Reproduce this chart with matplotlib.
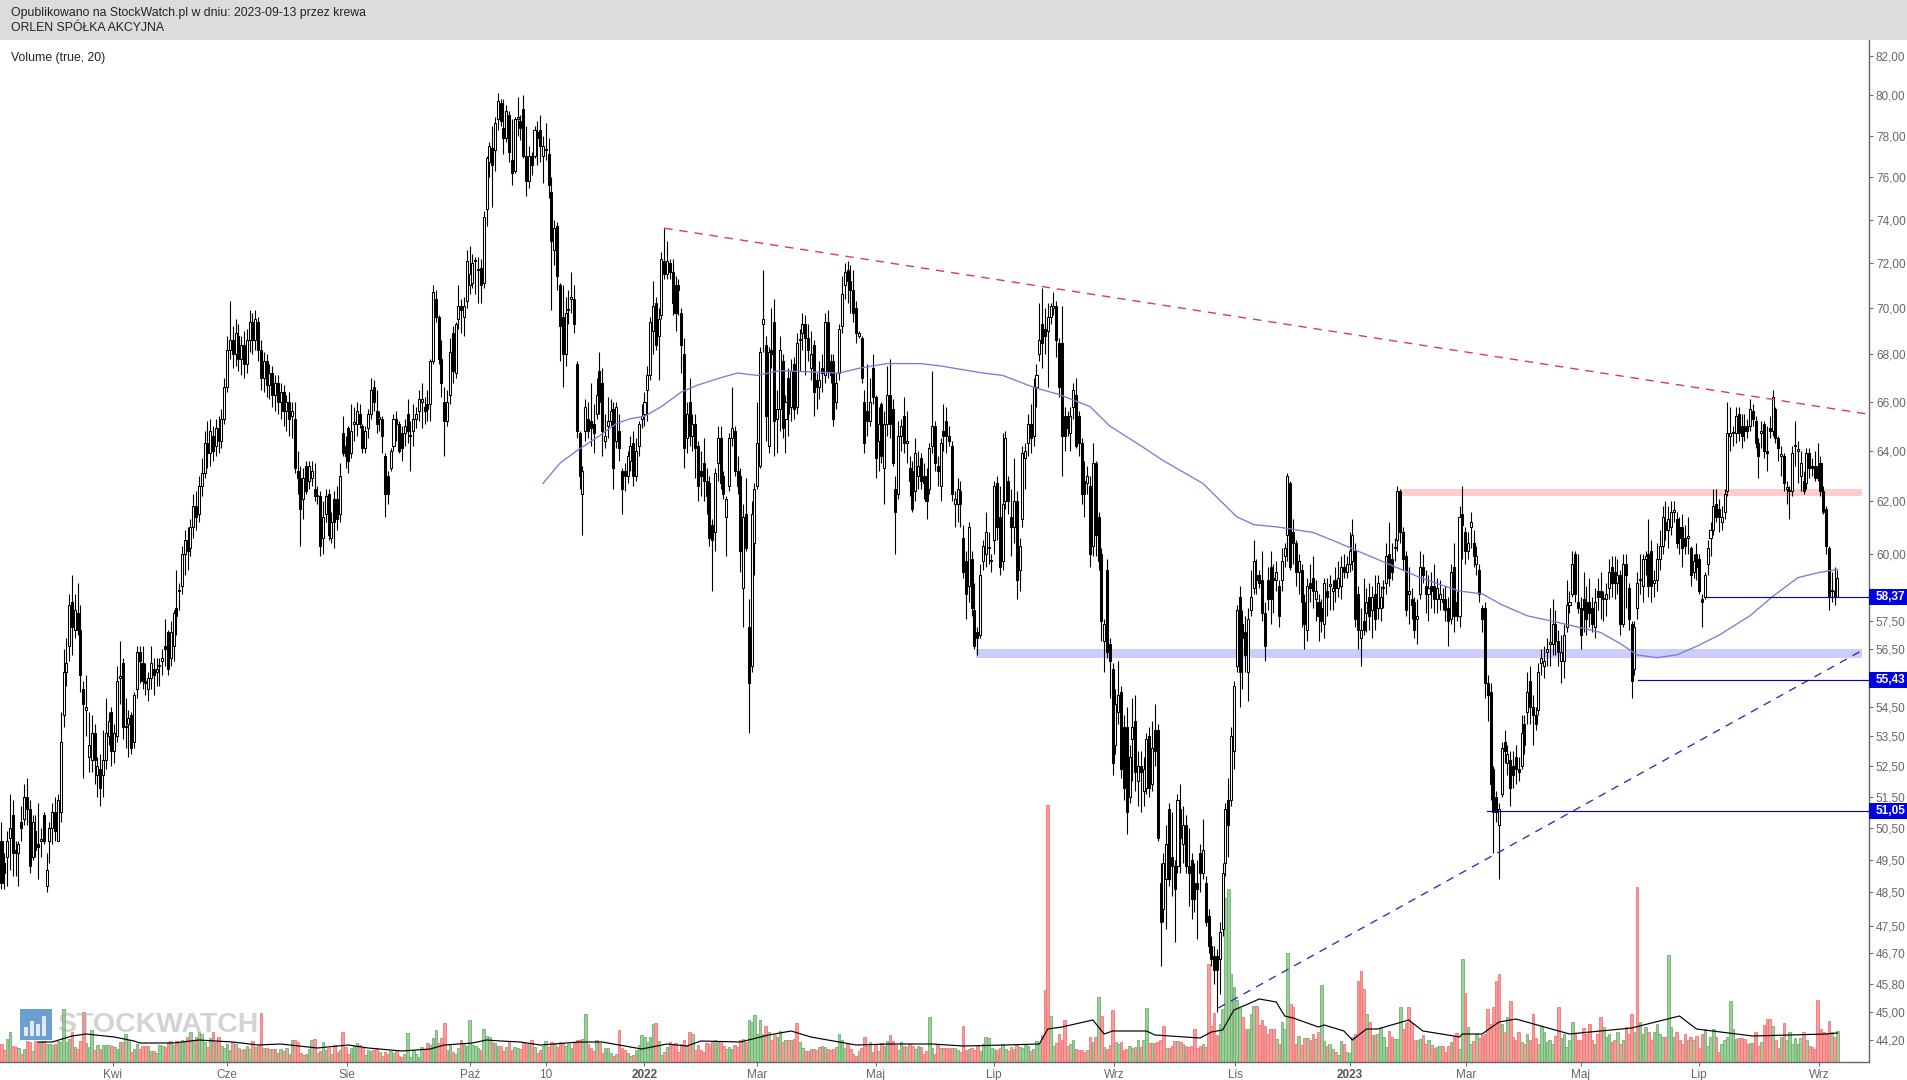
import numpy as np
import matplotlib
matplotlib.use("Agg")
import matplotlib.pyplot as plt
from matplotlib.patches import Rectangle

plt.rcParams['font.family'] = ['Liberation Sans', 'DejaVu Sans']

opens = [
50.1,49.4,49.6,50.2,50.9,49.8,49.7,50.7,50.8,51.5, 51.1,49.6,50.4,50.0,50.1,50.9,48.7,50.1,50.5,51.0,
50.1,51.0,54.2,55.7,56.6,58.2,57.2,57.8,57.2,55.1, 54.4,52.8,52.7,53.6,52.2,52.4,52.2,52.7,53.5,54.3,
53.0,53.5,55.5,56.0,53.8,53.9,54.2,53.3,55.1,56.4, 56.0,55.4,55.1,55.5,55.8,55.7,55.9,56.1,56.6,57.1,
56.2,56.6,58.0,58.6,58.8,60.0,60.5,60.2,61.0,61.8, 61.5,62.6,63.1,64.3,63.9,64.6,64.2,64.9,64.4,65.3,
66.6,68.2,68.6,68.0,68.8,67.8,68.4,67.6,68.6,69.4, 68.6,69.4,68.2,67.0,67.7,66.7,67.2,66.3,66.8,66.0,
66.4,65.6,66.0,65.4,
65.3,63.2,62.9,62.1,63.4,62.8,62.9,62.5,62.2,62.2, 60.6,61.5,62.3,60.6,62.1,62.1,61.5,64.7,64.2,64.9,
63.9,65.1,65.1,65.5,65.0,64.1,64.9,65.5,66.6,65.6, 65.3,65.3,63.8,63.0,63.3,64.2,65.3,65.1,64.7,64.7,
65.5,64.6,64.8,65.3,65.6,66.0,65.8,65.9,65.9,67.7, 70.4,69.6,67.8,66.0,65.2,66.3,68.9,67.2,69.5,70.1,
69.6,70.3,71.0,71.1,72.1,71.7,71.8,71.1,74.5,76.7, 77.4,77.3,78.8,79.6,78.4,77.9,79.0,76.8,76.3,78.8,
78.7,79.3,77.0,75.8,77.0,77.0,78.2,78.3,77.0,77.3, 77.1,75.3,72.6,73.7,71.0,69.6,68.0,69.9,70.4,70.4,
67.6,64.7,62.3,64.8,65.3,65.2,65.1,65.5,67.3,66.8, 64.4,65.0,65.2,65.7,64.4,64.8,63.2,63.2,63.0,
63.6,64.3,63.0,64.2,65.3,65.5,66.5,67.1,69.0,70.2, 68.8,69.7,72.1,71.5,72.0,71.6,71.0,71.0,69.8,68.0,
64.5,66.0,64.6,65.1,64.2,63.2,63.5,62.8,62.7,61.1, 60.8,63.5,64.5,63.0,61.4,62.6,64.5,64.8,63.2,63.0,
58.7,61.5,57.3,55.9,60.4,62.6,63.4,69.3,68.4,64.2, 68.2,69.4,65.3,65.7,67.7,65.3,67.0,65.8,67.6,65.8,
68.6,68.9,69.3,68.7,67.4,68.4,66.9,66.6,67.4,67.1, 69.4,67.7,67.7,66.0,67.2,69.2,71.0,71.7,71.2,70.8,
70.0,68.8,68.7,66.0,65.6,65.2,67.4,66.2,64.4,65.9, 63.3,65.1,66.3,65.7,62.5,62.3,64.6,65.4,64.3,63.3,
63.2,62.4,63.0,63.7,63.0,63.0,62.5,64.2,65.0,63.4, 62.6,64.8,65.2,64.6,64.2,
61.9,61.9,62.4,60.6,59.7,58.8,59.8,57.9,57.1,57.0, 59.7,60.0,60.2,59.7,60.5,62.7,61.4,59.7,62.0,62.8,
61.4,61.0,62.0,59.4,61.3,63.7,64.3,65.1,64.6,66.6, 68.0,69.3,69.1,69.0,69.6,70.0,70.1,68.5,68.5,65.4,
65.4,64.7,65.8,66.3,65.4,64.3,62.8,62.7,62.6,60.3, 63.5,61.4,60.0,56.8,59.4,56.7,55.8,53.2,54.3,55.0,
53.8,53.8,51.5,53.4,54.0,52.0,52.5,51.7,51.8,53.5, 51.9,53.7,53.7,48.8,48.0,48.9,51.1,49.6,49.3,49.3,
51.1,50.0,50.6,49.3,49.5,48.8,48.8,49.7,49.1,48.8, 47.8,46.9,46.6,46.6,46.5,47.4,49.4,51.4,51.4,53.0,
55.9,58.4,57.4,57.1,55.7,57.9,58.7,59.2,59.2,59.0, 57.8,59.0,59.5,59.1,
59.0,58.8,59.0,59.9,60.7,62.7,60.8,60.4,59.3,59.4, 58.2,57.2,58.9,59.1,58.3,58.2,58.0,57.4,58.6,58.8,
58.6,59.0,58.7,58.8,59.5,59.3,59.6,59.7,60.1,58.5, 56.9,57.5,57.8,58.4,57.9,58.5,58.0,58.0,58.7,58.9,
60.0,59.8,60.2,60.5,62.4,60.8,59.9,58.5,58.3,58.2, 57.6,58.5,59.5,58.8,58.5,58.8,58.8,58.3,58.3,58.3,
58.3,58.0,57.6,59.5,58.2,57.7,61.5,60.8,60.1,61.0, 60.4,59.6,59.4,58.0,58.0,55.3,55.0,52.4,51.5,50.6,
51.6,53.3,52.6,52.7,52.5,52.8,52.4,52.5,53.9,54.3, 55.4,54.5,54.2,54.4,56.0,55.9,56.4,56.7,56.7,57.4,
56.8,56.1,56.1,57.3,58.1,58.5,60.0,58.2,58.0,
58.3,58.2,58.2,58.0,57.3,58.6,58.6,58.3,58.3,58.7, 59.5,59.3,58.9,59.2,57.4,59.6,58.7,57.4,55.8,58.0,
59.0,58.8,59.8,60.0,60.1,58.9,59.0,59.8,60.3,61.2, 60.9,61.0,61.6,61.3,61.0,61.0,60.6,60.6,60.2,59.3,
60.0,59.8,58.3,58.4,59.6,60.6,60.9,61.9,61.7,61.2, 61.6,62.4,64.6,64.7,64.7,65.5,65.0,65.0,65.0,65.0,
65.6,65.2,64.3,64.7,65.1,64.0,64.9,64.8,65.7,64.5, 63.8,63.8,62.5,62.4,62.4,64.2,64.0,63.0,62.8,62.7,
63.9,63.4,63.4,63.4,63.5,62.4,61.7,60.2,58.6,58.6, 58.4,
]
closes = [
48.8,49.1,50.1,50.5,49.7,49.7,50.0,50.5,51.5,51.1, 49.3,50.7,49.8,49.9,50.1,50.1,49.2,50.5,51.0,50.4,
51.4,53.3,55.7,56.0,58.1,57.3,57.9,57.2,55.6,54.6, 54.5,53.2,53.6,52.7,52.5,51.8,52.7,53.6,54.0,53.0,
53.6,55.4,55.5,53.8,53.8,54.1,53.1,54.9,56.4,56.1, 55.4,55.3,55.5,56.0,55.6,55.8,55.9,56.2,56.5,55.8,
57.1,57.8,57.7,58.6,60.0,60.5,60.1,61.0,61.8,61.4, 62.6,63.1,64.3,63.9,64.8,64.0,64.9,64.4,65.3,66.6,
68.2,68.6,68.0,68.9,67.8,68.4,67.6,68.6,69.4,68.6, 69.5,68.2,67.0,67.7,66.7,67.2,66.3,66.8,66.0,66.4,
65.6,66.0,65.3,65.6,
63.3,62.9,61.7,62.9,62.4,63.4,63.2,62.2,62.2,60.3, 61.4,62.2,60.7,61.2,61.2,61.3,63.0,63.9,63.8,63.6,
64.8,65.1,65.6,65.1,64.1,64.8,65.5,66.5,66.0,65.1, 65.3,64.6,62.3,62.3,64.0,65.3,65.1,64.0,64.1,65.0,
64.8,64.6,65.3,65.5,66.1,66.1,65.6,65.7,67.7,70.7, 69.6,67.8,66.8,65.2,66.0,68.1,67.3,69.3,70.1,69.9,
70.1,72.1,71.5,72.0,72.1,71.7,71.0,74.1,76.9,77.5, 76.6,78.6,79.7,78.7,77.9,79.2,77.2,76.2,78.8,78.9,
78.4,77.0,75.8,77.0,76.6,78.3,77.9,77.5,77.5,77.3, 75.6,73.0,73.6,71.4,69.2,68.0,69.8,69.9,70.5,69.3,
64.8,63.0,63.2,65.8,64.8,64.9,64.7,66.3,66.0,64.8, 64.6,65.2,65.6,63.3,65.8,64.1,62.5,63.0,63.8,
64.2,63.0,64.0,65.1,65.4,66.0,67.1,69.4,70.1,68.4, 69.5,72.2,71.5,72.1,71.6,70.2,69.8,70.8,68.4,64.1,
65.5,64.6,65.1,64.1,62.6,63.0,62.8,62.2,60.6,60.5, 63.1,64.5,62.7,62.3,62.1,64.5,64.9,63.2,62.6,60.1,
61.4,60.2,55.3,61.5,62.5,64.3,68.1,69.5,65.4,68.1, 68.0,65.2,65.7,68.2,64.9,66.0,65.5,67.3,65.7,68.5,
68.6,69.3,68.7,68.2,68.0,66.4,66.6,66.9,67.2,69.4, 67.3,67.1,65.3,66.8,69.1,70.6,71.6,71.2,70.8,69.8,
68.9,68.9,67.0,64.3,65.2,66.0,66.2,63.7,65.1,63.8, 65.1,66.3,65.1,63.5,61.6,64.6,65.0,64.3,64.4,62.8,
61.7,63.9,63.4,62.8,62.7,62.0,64.1,65.0,63.5,63.2, 64.3,64.6,64.6,64.4,62.3,
62.1,62.5,61.9,59.3,58.5,61.0,58.0,56.6,56.9,59.2, 60.3,60.8,60.2,59.7,62.6,61.0,59.5,61.9,64.5,62.0,
61.0,62.0,59.0,60.3,63.9,64.0,65.1,64.5,66.6,67.1, 68.6,68.5,68.8,69.6,70.1,70.1,68.6,66.6,64.6,64.6,
64.9,65.4,66.5,64.2,64.3,62.3,62.3,63.0,60.0,63.5, 60.7,59.7,57.5,57.4,56.4,56.1,52.6,54.6,54.9,52.4,
51.8,51.0,52.8,53.8,52.3,52.5,52.3,52.4,53.4,51.8, 53.1,53.0,50.2,47.6,49.4,50.0,48.9,49.3,48.6,51.4,
50.2,50.6,49.3,49.1,48.3,48.3,48.6,49.1,49.8,47.6, 46.9,46.5,46.2,46.2,47.3,49.1,51.1,50.6,53.5,55.2,
57.9,55.7,56.9,56.3,57.6,58.4,59.7,59.0,58.9,57.8, 56.6,58.3,58.3,59.0,
59.3,57.7,59.7,60.2,63.0,59.5,60.4,59.3,59.7,58.2, 57.4,58.8,58.7,58.6,58.6,57.7,57.5,58.9,58.4,58.8,
58.7,58.7,59.1,59.5,59.3,59.6,60.1,60.7,57.6,57.2, 57.2,57.2,58.2,57.7,58.4,57.6,58.9,58.4,58.7,59.9,
59.1,59.3,60.2,62.4,60.8,59.8,57.9,58.6,58.1,57.2, 57.7,59.5,59.2,58.5,58.7,58.6,58.3,58.7,58.5,58.2,
57.9,57.5,59.3,57.7,57.7,61.4,61.1,60.1,60.4,61.2, 59.9,59.9,58.5,57.6,55.3,54.9,51.9,51.0,51.0,51.1,
53.1,53.0,52.9,51.8,52.2,52.4,52.3,53.6,53.2,55.0, 54.5,54.2,53.9,55.7,56.2,56.1,56.5,56.7,57.4,56.8,
56.4,56.4,57.0,58.1,58.2,59.6,58.5,58.0,57.0,
57.9,57.6,57.8,57.4,58.2,58.4,58.4,58.3,58.5,59.3, 58.9,58.9,59.2,57.4,59.6,59.2,57.6,55.4,57.3,58.9,
59.0,59.8,59.9,58.8,58.8,59.0,59.8,60.3,61.4,60.9, 61.3,61.6,61.6,60.4,60.6,60.2,60.3,60.6,59.2,59.7,
59.5,58.6,58.2,59.2,60.2,60.9,61.8,61.4,61.4,61.4, 62.3,64.7,64.7,64.7,65.4,64.7,64.6,64.8,64.8,65.7,
65.3,64.3,63.8,64.8,64.0,63.9,64.8,66.2,64.5,64.1, 63.8,62.7,62.5,62.4,63.9,64.2,64.0,63.5,62.4,63.9,
63.3,63.3,62.9,62.9,62.4,61.6,60.3,58.4,58.6,58.4, 59.1,
]
highs = [
50.7,49.7,50.4,51.6,51.4,50.1,50.1,51.2,51.9,52.1, 51.4,50.9,50.9,51.3,50.5,51.0,49.7,50.7,51.3,51.5,
51.6,54.3,56.5,56.9,58.5,59.2,58.5,58.9,58.1,55.4, 55.6,54.3,54.2,53.9,52.8,52.9,53.7,54.8,54.3,54.5,
53.9,55.9,56.8,56.2,54.8,54.4,54.3,55.0,56.6,56.6, 56.6,56.0,55.7,56.6,56.2,56.2,56.2,56.5,57.6,57.2,
57.5,57.9,59.4,58.9,60.3,60.9,61.0,61.3,62.3,62.4, 63.0,63.7,64.8,65.2,65.3,65.0,65.3,65.4,65.7,67.0,
68.8,70.3,69.2,69.5,69.3,68.8,69.0,69.1,69.9,69.8, 69.9,69.6,68.6,68.1,68.0,67.6,67.5,67.1,67.1,66.8,
66.7,66.3,66.4,66.0,
66.0,64.0,63.4,63.3,63.6,63.6,63.6,63.5,62.6,62.4, 62.0,62.5,62.5,61.6,62.4,62.6,63.5,65.4,64.6,65.0,
65.9,65.8,66.0,65.9,65.1,65.0,65.7,67.0,66.9,66.5, 65.6,65.4,63.9,63.2,64.1,65.5,65.6,65.2,65.0,65.3,
66.1,65.2,65.9,65.8,66.5,66.8,66.2,66.5,67.8,71.0, 70.8,69.7,68.6,66.6,66.5,68.7,69.2,69.4,71.0,70.4,
70.5,72.6,72.8,72.4,72.3,72.3,72.2,74.4,77.0,77.7, 78.5,78.9,80.1,79.8,79.8,79.5,79.2,78.8,78.9,79.9,
79.0,80.0,78.5,77.5,77.2,78.5,78.7,79.0,78.0,78.6, 77.9,76.0,74.0,73.9,71.1,71.0,70.5,70.8,71.6,71.0,
67.7,64.8,63.4,66.1,66.0,66.8,65.9,67.0,68.1,67.4, 65.5,66.2,66.1,66.0,66.0,65.5,63.3,63.5,64.0,
64.6,64.8,64.5,65.2,65.9,66.4,67.5,69.6,71.2,70.5, 70.0,72.5,73.6,73.0,72.2,72.2,71.4,71.3,70.0,68.7,
66.0,67.0,65.5,65.5,64.4,64.0,64.5,63.3,63.0,61.3, 63.3,65.0,65.0,63.2,62.2,64.7,66.6,65.0,63.8,63.3,
61.9,62.9,58.3,62.0,62.7,66.0,68.3,71.7,68.8,68.3, 70.0,70.4,66.5,68.8,68.0,66.3,67.4,67.8,67.9,68.9,
69.1,69.8,69.7,69.3,69.0,68.6,67.2,67.7,68.0,69.8, 69.9,68.0,68.0,67.2,69.3,71.4,72.0,72.1,71.9,71.7,
70.3,69.0,68.8,66.5,67.6,67.0,68.0,66.3,65.8,66.0, 65.6,67.5,67.8,66.1,63.0,65.2,65.3,66.2,65.6,63.8,
63.6,64.5,64.0,63.9,63.5,63.3,64.3,67.3,65.2,63.8, 64.5,65.9,65.8,65.0,64.4,
62.4,62.9,62.8,61.1,60.1,61.2,60.1,58.9,57.3,59.6, 60.5,61.6,60.8,60.0,62.8,63.0,62.6,64.7,64.8,63.0,
62.5,63.7,62.4,60.6,64.2,64.3,65.5,65.9,67.0,67.6, 70.2,70.9,70.0,70.2,70.2,70.7,70.3,68.7,70.1,65.8,
65.6,65.8,66.8,67.0,65.6,64.5,63.6,63.4,63.0,64.3, 63.6,61.6,60.2,57.6,59.8,56.9,56.0,55.1,56.1,55.2,
54.2,54.5,53.2,54.8,54.9,53.0,53.0,52.8,53.6,53.8, 54.0,54.6,53.9,49.4,49.7,50.6,51.3,51.0,49.5,51.6,
51.9,51.2,50.9,50.5,49.7,49.4,49.5,50.0,50.8,49.0, 48.0,47.2,46.9,46.8,47.6,49.4,51.3,52.1,53.8,55.4,
58.1,58.8,57.9,57.7,58.0,59.4,60.5,59.8,59.4,60.1, 58.2,59.5,60.1,59.6,
59.7,59.0,60.2,60.4,63.1,62.8,61.3,60.5,60.0,59.6, 58.5,59.1,59.6,59.9,59.0,58.5,58.3,59.1,59.1,59.2,
59.0,59.5,59.7,59.9,60.0,59.9,60.8,61.3,60.4,58.8, 58.0,59.1,58.7,58.9,58.8,59.2,59.2,58.8,59.0,60.4,
61.2,60.4,60.6,62.6,62.5,61.0,60.1,59.5,58.7,58.4, 58.3,60.1,60.0,59.4,59.2,59.3,59.6,59.1,59.0,58.7,
58.8,58.4,59.6,60.4,58.6,61.8,62.6,61.0,60.8,61.6, 60.9,60.3,59.6,58.1,58.2,55.6,55.3,52.5,51.7,51.3,
53.3,53.7,53.2,53.0,53.0,53.2,52.8,54.2,54.2,55.7, 55.9,54.9,54.5,56.0,56.5,56.6,56.9,58.0,58.3,57.9,
57.2,57.0,57.4,59.0,58.6,60.1,60.1,60.0,58.4,
59.3,58.8,59.1,58.4,58.7,59.1,59.3,58.6,58.9,59.8, 59.9,59.9,59.8,59.4,60.0,60.0,58.9,57.5,57.5,59.3,
60.0,60.0,60.1,61.3,60.5,59.4,60.4,60.9,61.8,62.0, 61.8,62.0,62.0,61.6,61.4,61.5,61.1,61.4,60.3,60.0,
60.4,60.0,58.5,59.3,60.5,61.2,62.5,62.5,62.1,61.8, 62.5,66.0,65.8,65.0,65.8,65.8,65.5,65.5,65.3,66.1,
65.9,65.4,64.5,65.2,65.2,65.0,65.4,66.5,65.8,64.6, 64.2,63.9,62.8,62.6,64.2,65.2,64.4,64.0,63.2,64.1,
64.1,63.7,64.0,64.3,63.8,62.6,61.8,60.3,59.3,59.5, 59.4,
]
lows = [
48.6,48.6,48.7,49.2,49.0,49.0,48.7,50.1,50.6,50.6, 49.1,49.5,49.6,48.9,49.6,50.0,48.5,49.4,50.0,50.1,
50.8,50.7,53.8,55.2,56.1,56.3,56.9,57.0,55.0,52.1, 53.5,52.3,52.3,51.9,51.5,51.2,51.5,52.4,53.2,52.5,
52.6,53.3,54.6,53.4,53.1,52.8,52.9,53.1,54.8,55.3, 55.1,54.9,54.7,55.1,54.9,55.2,55.2,55.6,55.9,55.6,
55.9,56.1,57.0,57.9,58.5,59.2,59.4,59.9,60.6,60.9, 61.2,62.2,62.9,63.3,63.4,63.6,63.8,63.9,64.1,65.1,
66.4,67.8,67.4,67.5,67.3,67.1,67.0,67.2,68.1,68.0, 68.2,67.7,66.5,66.4,66.2,66.1,65.8,65.6,65.5,65.3,
65.0,64.8,64.6,64.5,
63.1,62.3,60.3,61.3,62.3,62.5,62.6,62.0,61.9,59.9, 60.0,61.2,60.5,60.4,60.2,60.9,61.2,63.8,63.3,63.1,
63.7,64.4,64.6,64.9,63.9,63.9,64.5,65.3,65.6,64.7, 64.8,63.9,61.4,61.9,63.2,64.0,64.4,63.9,63.6,64.2,
64.3,63.2,64.2,64.9,65.2,64.9,65.1,65.2,65.2,67.6, 69.4,67.6,66.2,63.8,65.0,65.9,66.8,67.0,69.1,68.9,
68.8,70.0,70.6,70.9,70.6,70.2,70.2,70.9,73.7,76.0, 74.6,76.3,78.3,78.5,77.1,77.7,76.7,75.6,76.2,78.0,
77.8,76.9,75.1,75.5,76.1,76.9,76.6,76.7,75.7,76.8, 75.0,69.9,71.9,70.8,67.7,66.6,67.5,69.3,69.8,68.9,
64.5,62.5,60.7,64.4,64.5,64.2,63.9,65.3,65.5,63.8, 64.1,64.5,65.0,62.5,64.1,63.6,61.5,62.4,62.7,
63.2,62.6,62.8,63.8,64.9,65.0,65.2,66.9,68.0,68.2, 66.9,69.5,71.3,71.3,71.3,69.7,69.0,69.7,67.2,63.3,
63.9,64.2,64.0,62.9,62.0,62.2,62.0,61.5,60.3,58.6, 60.1,62.8,62.5,62.1,59.9,62.4,64.2,63.0,62.3,59.3,
57.3,60.1,53.6,55.7,59.2,62.5,63.3,68.1,64.4,63.9, 67.4,63.8,63.9,64.8,64.5,63.9,64.6,65.2,65.3,65.5,
67.3,68.2,67.1,67.7,66.9,65.4,65.7,66.1,66.4,66.8, 67.0,66.8,65.0,65.7,66.9,68.9,70.4,70.2,69.8,69.4,
68.5,68.7,66.8,63.9,64.6,65.0,65.9,62.9,63.2,63.5, 61.9,64.6,64.5,63.4,60.0,62.1,64.0,63.9,63.5,62.2,
61.6,62.0,62.5,62.5,62.1,61.3,62.3,63.9,63.2,62.6, 62.0,64.0,63.9,64.2,62.0,
61.0,61.2,61.0,59.1,57.6,58.2,57.7,56.5,56.3,56.9, 59.4,59.5,59.6,59.3,60.0,60.5,59.2,59.4,61.7,61.5,
59.9,60.4,58.3,58.6,61.0,62.5,63.8,63.9,64.2,65.8, 67.7,67.4,68.0,66.6,69.3,69.7,67.9,66.2,63.0,64.0,
64.6,64.0,65.3,64.1,63.8,61.9,61.4,62.3,59.5,59.9, 59.9,59.4,56.8,55.7,56.2,54.8,52.2,52.9,53.9,52.1,
51.4,50.3,51.3,52.0,51.7,51.2,51.0,51.2,51.6,51.5, 51.7,52.5,50.1,46.3,47.6,47.4,48.7,48.4,47.0,49.1,
49.1,49.4,49.1,48.1,47.7,47.9,47.1,48.5,48.9,47.5, 46.7,46.3,45.8,45.0,45.5,47.2,49.0,49.6,51.2,52.4,
55.7,54.5,55.1,55.7,54.7,57.7,58.5,58.5,58.7,57.5, 56.1,57.9,57.4,57.8,
58.6,57.3,58.6,59.5,59.7,59.4,59.6,58.8,58.5,57.3, 56.5,56.8,58.2,58.0,57.5,56.8,57.1,56.9,57.7,57.9,
57.9,58.2,58.4,58.3,59.1,59.1,59.3,59.4,57.3,56.5, 55.9,57.0,57.1,57.2,56.9,57.2,57.6,57.5,58.0,58.5,
58.8,59.0,59.7,60.1,60.4,59.4,57.7,57.4,57.6,56.9, 56.7,58.3,58.9,57.8,57.5,58.0,57.8,57.8,57.9,57.9,
57.5,56.6,57.4,57.1,57.5,57.3,59.8,59.6,59.8,60.2, 59.5,59.2,58.2,57.1,54.8,54.0,51.4,49.7,50.7,48.9,
51.5,52.6,52.2,51.2,51.8,51.9,52.0,52.4,52.9,53.9, 53.9,53.2,53.7,54.2,55.6,55.5,55.9,55.9,56.3,56.3,
55.9,55.3,55.5,57.1,57.8,58.4,58.2,57.8,56.5,
57.1,57.0,57.3,57.1,56.9,57.9,57.6,57.5,57.7,58.3, 58.4,58.3,58.5,57.0,57.3,58.0,57.2,54.8,55.6,57.6,
58.5,58.2,59.2,58.4,58.2,58.4,58.6,59.4,60.0,60.5, 60.2,60.7,61.2,60.2,60.0,59.5,60.0,60.0,58.8,59.1,
59.0,58.5,57.3,58.3,59.2,59.9,60.7,61.2,60.8,60.9, 61.3,62.2,64.0,64.2,64.3,64.4,64.1,64.4,64.5,64.8,
65.0,64.1,62.9,64.1,63.7,63.2,64.5,64.6,64.3,63.6, 63.0,62.4,61.9,61.3,62.2,63.4,62.7,62.4,62.3,62.5,
62.9,63.0,62.8,62.8,62.2,61.5,60.0,57.9,58.2,58.1, 58.4,
]
volumes = [
18,12,23,30,16,15,14,8,13,21, 20,11,21,20,20,21,18,18,17,18, 21,20,53,20,23,30,15,13,21,50,
19,15,32,12,17,13,17,17,17,16, 15,13,20,20,28,22,10,13,18,13, 16,16,16,11,11,9,17,16,15,20,
21,17,21,20,22,20,25,30,22,25, 30,28,20,15,24,30,20,25,16,14, 18,12,20,18,14,12,13,16,13,21,
15,17,49,14,14,13,13,13,9,13, 11,14,8,22,22,20,9,7,8,13, 22,23,9,11,20,12,14,8,17,10,
12,30,15,8,14,16,19,17,14,7, 12,11,12,13,10,6,10,8,11,9, 12,6,5,8,29,5,12,8,5,15,
12,19,17,24,32,19,24,39,12,18, 10,8,14,22,18,16,42,17,16,14, 12,33,26,25,20,19,16,16,11,15,
20,12,15,14,13,20,18,19,22,15, 9,12,16,21,15,20,18,15,20,19, 16,18,14,19,22,22,23,48,18,14,
11,22,19,9,14,14,9,6,8,32, 14,12,9,6,7,12,17,27,25,20, 25,38,39,21,7,10,15,20,17,19,
10,18,22,16,30,28,12,17,12,10, 19,18,20,22,20,21,16,13,15,13, 17,15,22,23,20,42,40,47,28,42,
28,36,30,22,27,25,31,20,22,22, 22,23,39,20,14,11,11,13,13,12, 15,16,15,13,12,13,15,28,22,14,
18,13,8,6,11,14,25,16,20,10, 18,11,19,16,21,27,21,17,12,20, 16,15,18,16,13,16,15,8,11,45,
14,8,18,14,14,14,14,14,14,12, 10,36,12,13,14,12,16,11,18,25, 24,14,13,12,14,18,13,11,15,13,
17,15,14,17,16,11,13,21,19,27, 72,257,46,16,19,28,22,42,16,18, 22,13,12,12,10,12,25,20,25,65,
46,15,13,17,52,20,18,20,12,13, 16,14,15,22,15,22,54,19,19,19, 20,22,36,14,14,16,21,21,20,18,
16,15,16,33,14,16,18,15,98,36, 49,27,38,53,164,173,88,75,62,54, 45,33,33,48,56,56,37,42,36,28,
33,33,23,18,40,33,109,58,55,18, 26,17,24,24,22,28,23,30,77,21, 16,18,13,10,7,21,18,10,9,25,
28,81,91,73,48,40,27,27,28,34, 25,15,31,25,23,23,55,33,39,55, 39,22,22,23,27,18,22,17,14,15,
16,16,10,16,20,26,29,13,103,69, 35,18,21,28,24,27,28,53,38,55, 81,88,38,30,45,61,25,22,30,20,
18,28,22,48,24,18,36,30,20,22, 18,26,55,24,28,15,22,40,28,22, 22,34,28,38,22,18,28,45,35,25,
28,20,22,30,18,22,35,28,48,30, 175,40,28,35,30,22,30,38,28,25, 25,107,35,25,30,22,18,28,22,25,
22,26,14,28,33,16,25,33,25,10, 18,22,25,61,33,23,24,24,23,18, 19,19,30,16,20,37,43,43,36,22,
14,25,39,22,30,18,24,18,24,30, 22,16,15,13,62,33,30,29,41,30, 25,31,
]

# bars whose volume colour was read directly, where it differs from the candle
green_bars = [22,144,154,166,172,207,265,266,267,268,330,372,389,406,433,434,435,436,437,438,439,456,468,496,518,591,613]
red_bars = [29,92,121,157,282,342,370,371,390,394,412,423,428,481,482,483,499,527,530,531,580,644]

ma_bars = [192,198,204,212,218,223,228,234,241,247, 255,261,268,276,297,304,314,320,326,333,
           348,355,366,375,386,393,404,412,426,438, 444,453,465,472,483,492,503,517,525,532,
           541,550,563,567,574,580,587,594,601,609, 620,628,637,645,651]
ma_prices = [62.7,63.5,64,64.6,65.1,65.3,65.4,65.8,66.4,66.7, 67,67.2,67.1,67.3,67.2,67.4,67.6,67.6,67.6,67.5,
             67.2,67.1,66.6,66.3,65.8,65,64.2,63.6,62.7,61.4, 61.1,61,60.8,60.5,60,59.6,59.1,58.6,58.5,58.1,
             57.7,57.5,57.2,57.1,56.7,56.3,56.2,56.3,56.6,57, 57.7,58.4,59.1,59.3,59.4]

# black volume average
vma_bars = [13,18,25,30,40,47,49,61,70,82, 91,99,112,123,130,142,152,157,167,172,
            177,184,191,205,213,227,236,243,248,262, 272,280,287,297,303,315,330,341,356,368,
            371,376,387,391,394,406,409,425,429,433, 437,442,446,452,455,458,467,469,476,479,
            484,488,499,504,515,517,518,525,531,537, 556,578,595,601,621,647,651]
vma_values = [20,20,26,28,25,21,19,19,22,20, 17,18,14,17,14,11,13,17,19,22,
              21,20,17,20,20,13,18,16,21,20, 27,31,25,20,17,18,18,16,17,18,
              33,35,42,28,31,31,27,24,30,32, 52,58,63,60,46,44,35,37,31,22,
              33,33,42,31,26,25,28,28,40,43, 28,34,46,33,26,28,29]

price_ticks = [82,80,78,76,74,72,70,68,66,64,62,60,57.5,56.5,54.5,53.5,52.5,51.5,50.5,49.5,48.5,47.5,46.7,45.8,45,44.2]
date_ticks = [39.5,80,122.5,166,193,228,268,310,352,394.5,437.5,478,519.4,560,602,644.5]
date_labels = ['Kwi','Cze','Sie','Paź','10','2022','Mar','Maj','Lip','Wrz','Lis','2023','Mar','Maj','Lip','Wrz']

levels = [58.37, 55.43, 51.05]
level_starts = [604.8, 580.3, 526.8]

W, H = 1908, 1080
fig = plt.figure(figsize=(W/100, H/100), dpi=100, facecolor='white')
rect = [0, (H-1062)/H, 1869/W, (1062-40)/H]

ax_vol = fig.add_axes(rect, zorder=1)
ax = fig.add_axes(rect, zorder=2)
ax.patch.set_visible(False)

n = len(closes)
bars = np.arange(n)
o, c = np.array(opens[:n]), np.array(closes)
h, l = np.array(highs[:n]), np.array(lows[:n])
h = np.maximum(h, np.maximum(o, c))
l = np.minimum(l, np.minimum(o, c))

x_lim = (-0.53, 662.2)

# volume pane
v = np.array(volumes[:n])
up = c >= o
vol_up = up.copy()
vol_up[green_bars] = True
vol_up[red_bars] = False
ax_vol.bar(bars[vol_up], v[vol_up], width=0.92, color='#99d299', edgecolor='#72ad72', linewidth=0.6)
ax_vol.bar(bars[~vol_up], v[~vol_up], width=0.92, color='#ff9a9a', edgecolor='#ea7878', linewidth=0.6)
ax_vol.plot(vma_bars, vma_values, color='black', lw=0.85)
ax_vol.set_xlim(x_lim)
ax_vol.set_ylim(0, 1022)
ax_vol.axis('off')

# bands under the candles
ax.fill_between([345.6, 659.8], 56.2, 56.5, color='#ccccff', lw=0, zorder=1)
ax.fill_between([495.9, 659.8], 62.2, 62.5, color='#ffcccc', lw=0, zorder=1)

# candles
ax.vlines(bars, l, h, color='black', lw=0.8, zorder=3)
body_low = np.minimum(o, c)
body_h = np.maximum(np.abs(c-o), 0.05)
ax.bar(bars, body_h, bottom=body_low, width=0.72,
       color=np.where(up, 'white', 'black'), edgecolor='black', linewidth=0.75, zorder=4)

ax.plot(ma_bars, ma_prices, color='#7b7bd8', lw=0.95, zorder=5)
ax.plot([235, 661.2], [73.6, 65.5], color='#dc3c50', lw=1.0, dashes=(6, 5), zorder=5)
ax.plot([431.4, 660.5], [45.1, 56.5], color='#2a2ac0', lw=0.95, dashes=(6, 5), zorder=5)
for lev, start in zip(levels, level_starts):
    ax.plot([start, x_lim[1]], [lev, lev], color='#0a0a9c', lw=0.85, zorder=5)

ax.set_xlim(x_lim)
ax.set_yscale('log')
ax.set_ylim(43.6, 82.83)
ax.yaxis.tick_right()
ax.set_yticks(price_ticks)
ax.set_yticklabels([f"{t:.2f}".replace('.', ',') for t in price_ticks], color='#666666', fontsize=8.5)
ax.yaxis.set_minor_locator(matplotlib.ticker.NullLocator())
ax.tick_params(axis='y', length=3, width=0.7, color='#666666', pad=2)
ax.set_xticks(date_ticks)
ax.set_xticklabels(date_labels, color='#666666', fontsize=8.5)
for lab in ax.get_xticklabels():
    if lab.get_text() in ('2022', '2023'):
        lab.set_fontweight('bold')
        lab.set_color('#555555')
ax.tick_params(axis='x', length=3, width=0.7, color='#666666', pad=2)
for side in ('top', 'left'):
    ax.spines[side].set_visible(False)
for side in ('right', 'bottom'):
    ax.spines[side].set_color('#666666')
    ax.spines[side].set_linewidth(1.0)

# value boxes on the price axis
fig.canvas.draw()
for lev in levels:
    y_px = ax.transData.transform((0, lev))[1]
    fig.add_artist(Rectangle((1869/W, (y_px-8)/H), (W-1869)/W, 16/H, transform=fig.transFigure,
                             color='#0000e0', lw=0, zorder=10))
    fig.text(1876/W, y_px/H, f"{lev:.2f}".replace('.', ','), color='white', fontsize=8.5, fontweight='bold',
             va='center', ha='left', zorder=11)

# header
fig.add_artist(Rectangle((0, (H-40)/H), 1, 40/H, transform=fig.transFigure, color='#dcdcdc', lw=0, zorder=0))
fig.text(11/W, 1-13/H, 'Opublikowano na StockWatch.pl w dniu: 2023-09-13 przez krewa', fontsize=8.8, va='center', color='#222222')
fig.text(11/W, 1-28/H, 'ORLEN SPÓŁKA AKCYJNA', fontsize=8.8, va='center', color='#222222')
fig.text(11/W, 1-58/H, 'Volume (true, 20)', fontsize=8.8, va='center', color='#222222')

# watermark
fig.add_artist(Rectangle((20/W, 1-1040/H), 32/W, 31/H, transform=fig.transFigure, color='#4f8fc8', alpha=0.85, lw=0, zorder=6))
for bx, bh in zip([24, 30, 36, 42], [9, 15, 12, 20]):
    fig.add_artist(Rectangle((bx/W, 1-1036/H), 4/W, bh/H, transform=fig.transFigure, color='white', alpha=0.8, lw=0, zorder=7))
fig.text(57/W, 1-1025/H, 'STOCKWATCH', fontsize=20.5, fontweight='bold', color='#a8a8a8', alpha=0.5, va='center', zorder=6)

fig.savefig('out.png', dpi=100)
